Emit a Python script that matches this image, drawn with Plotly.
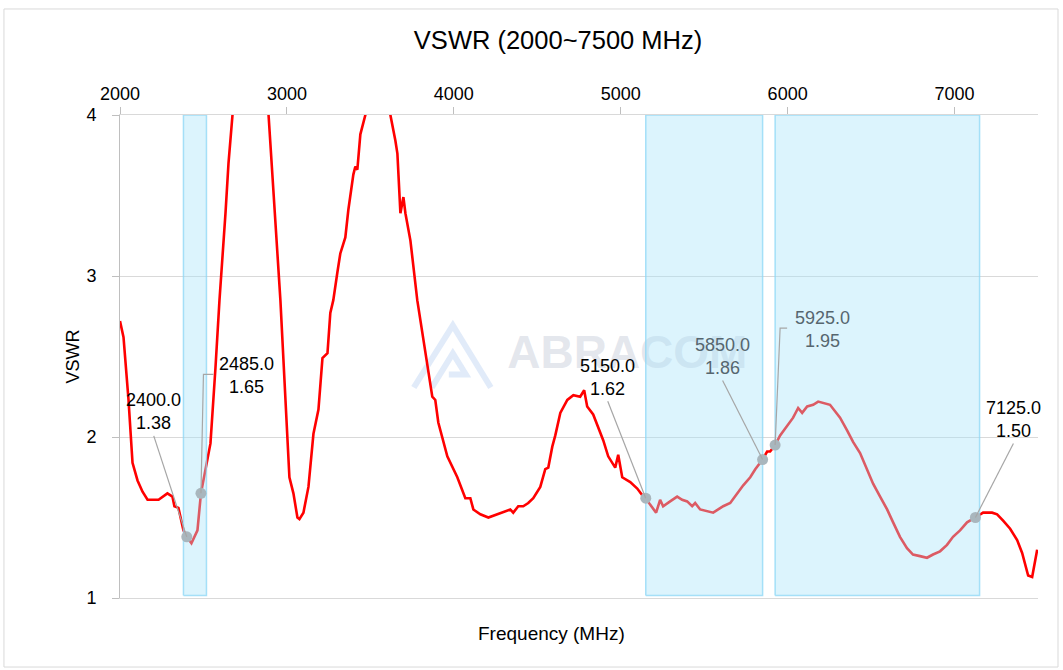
import plotly.graph_objects as go

# ---------------- data ----------------
freq_mhz = [2000, 2021, 2051, 2075, 2105, 2135, 2165, 2231, 2284, 2314, 2326, 2350, 2380, 2400,
            2428, 2464, 2485, 2524, 2542, 2572, 2596, 2632, 2650, 2674, 2720, 2800, 2860, 2890,
            2949, 2961, 3015, 3039, 3063, 3075, 3099, 3129, 3159, 3189, 3213, 3243, 3260, 3278,
            3302, 3320, 3350, 3368, 3398, 3410, 3422, 3440, 3470, 3520, 3580, 3620, 3650, 3662,
            3680, 3698, 3710, 3740, 3781, 3817, 3871, 3889, 3907, 3961, 4021, 4069, 4099, 4117,
            4159, 4207, 4261, 4296, 4338, 4356, 4386, 4416, 4446, 4476, 4518, 4548, 4566, 4590,
            4608, 4638, 4680, 4716, 4757, 4781, 4799, 4835, 4865, 4895, 4925, 4949, 4967, 4985,
            5009, 5057, 5099, 5135, 5150, 5176, 5212, 5236, 5254, 5296, 5338, 5368, 5398, 5428,
            5446, 5476, 5518, 5554, 5584, 5614, 5656, 5698, 5734, 5776, 5806, 5850, 5877, 5895,
            5925, 5955, 5997, 6033, 6063, 6087, 6117, 6153, 6183, 6254, 6284, 6314, 6357, 6392,
            6434, 6476, 6512, 6554, 6596, 6632, 6673, 6715, 6751, 6793, 6835, 6871, 6913, 6955,
            6991, 7033, 7075, 7125, 7171, 7225, 7255, 7291, 7333, 7375, 7405, 7441, 7465, 7495]
vswr = [2.72, 2.62, 2.23, 1.84, 1.73, 1.66, 1.61, 1.61, 1.65, 1.63, 1.57, 1.56, 1.42, 1.38,
        1.34, 1.42, 1.65, 1.86, 1.96, 2.43, 2.85, 3.39, 3.70, 4.00, 4.40, 4.70, 4.40, 4.00,
        2.98, 2.85, 1.75, 1.65, 1.50, 1.49, 1.53, 1.69, 2.02, 2.17, 2.49, 2.52, 2.77, 2.85,
        3.02, 3.14, 3.24, 3.41, 3.63, 3.68, 3.66, 3.88, 4.00, 4.30, 4.30, 4.00, 3.84, 3.76,
        3.39, 3.49, 3.39, 3.22, 2.85, 2.60, 2.25, 2.23, 2.09, 1.88, 1.75, 1.62, 1.62, 1.55,
        1.52, 1.50, 1.52, 1.53, 1.55, 1.53, 1.57, 1.57, 1.59, 1.62, 1.69, 1.80, 1.81, 1.94,
        2.01, 2.15, 2.23, 2.26, 2.25, 2.29, 2.19, 2.14, 2.06, 1.98, 1.88, 1.84, 1.81, 1.89,
        1.75, 1.72, 1.68, 1.63, 1.62, 1.58, 1.53, 1.61, 1.57, 1.60, 1.63, 1.61, 1.60, 1.57,
        1.59, 1.55, 1.54, 1.53, 1.55, 1.57, 1.59, 1.65, 1.70, 1.75, 1.80, 1.86, 1.91, 1.91,
        1.95, 2.01, 2.07, 2.12, 2.18, 2.15, 2.19, 2.20, 2.22, 2.20, 2.16, 2.12, 2.04, 1.97,
        1.90, 1.80, 1.71, 1.63, 1.55, 1.47, 1.38, 1.31, 1.27, 1.26, 1.25, 1.27, 1.29, 1.33,
        1.38, 1.42, 1.47, 1.50, 1.53, 1.53, 1.52, 1.48, 1.43, 1.36, 1.28, 1.14, 1.13, 1.30]

# marked points
mark_freq = [2400.0, 2485.0, 5150.0, 5850.0, 5925.0, 7125.0]
mark_vswr = [1.38, 1.65, 1.62, 1.86, 1.95, 1.50]

# frequency bands (shaded)
band_start = [2380, 5150, 5925]
band_end = [2518, 5850, 7150]

x_ticks = [2000, 3000, 4000, 5000, 6000, 7000]
y_ticks = [1, 2, 3, 4]

# ---------------- styling ----------------
FONT = "Liberation Sans, Arial, sans-serif"
BAND_FILL = "rgba(167,227,250,0.40)"
BAND_LINE = "rgba(140,215,245,0.75)"
LEADER = "#a6a6a6"

# label offsets in pixels (x right, y up) and leader paths
label_shift = [(-33, 125), (46, 118), (-38, 121), (-40, 103), (47, 116), (38, 98)]
leader_path = ["M0,0 L-33,101", "M0,0 L2.5,119 L12.5,119", "M0,0 L-38,97",
               "M0,0 L-40,79", "M0,0 L5,117 L12,117", "M0,0 L38,74"]
label_color = ["#000000", "#000000", "#000000", "#56666f", "#56666f", "#000000"]

fig = go.Figure()

# watermark (under everything)
fig.add_trace(go.Scatter(
    x=[4320], y=[2.50], mode="text", text=["<b>ABRACOM</b>"],
    textposition="middle right",
    textfont=dict(family=FONT, size=46, color="rgba(190,196,212,0.42)"),
    hoverinfo="skip", showlegend=False))

# main VSWR curve
fig.add_trace(go.Scatter(
    x=freq_mhz, y=vswr, mode="lines",
    line=dict(color="#ff0000", width=2.6),
    hoverinfo="skip", showlegend=False))

# shaded bands drawn above the curve (semi-transparent)
for a, b in zip(band_start, band_end):
    fig.add_trace(go.Scatter(
        x=[a, a, b, b, a], y=[1.015, 4, 4, 1.015, 1.015],
        mode="lines", fill="toself", fillcolor=BAND_FILL,
        line=dict(color=BAND_LINE, width=1.5),
        hoverinfo="skip", showlegend=False))

# markers
fig.add_trace(go.Scatter(
    x=mark_freq, y=mark_vswr, mode="markers",
    marker=dict(size=11, color="#a9b6bd"),
    hoverinfo="skip", showlegend=False))

shapes = []
annotations = []
for f, v, (dx, dy), p, c in zip(mark_freq, mark_vswr, label_shift, leader_path, label_color):
    shapes.append(dict(type="path", xref="x", yref="y", xsizemode="pixel", ysizemode="pixel",
                       xanchor=f, yanchor=v, path=p, line=dict(color=LEADER, width=1.2),
                       layer="above"))
    annotations.append(dict(x=f, y=v, xref="x", yref="y", xshift=dx, yshift=dy,
                            text=f"{f:.1f}<br>{v:.2f}", showarrow=False,
                            font=dict(family=FONT, size=18, color=c),
                            xanchor="center", yanchor="middle"))

# watermark logo (faint triangle)
shapes.append(dict(type="path", xref="x", yref="y", xsizemode="pixel", ysizemode="pixel",
                   xanchor=4000, yanchor=2.5,
                   path="M-40,-31 L-1,31 L37,-31 M-22,-31 L-1,3 L12,-18 L-5,-18",
                   line=dict(color="rgba(205,222,245,0.6)", width=6), layer="below"))

# outer chart border
shapes.append(dict(type="rect", xref="paper", yref="paper",
                   x0=-0.1264, x1=1.0218, y0=-0.1429, y1=1.2195,
                   line=dict(color="#d9d9d9", width=1), layer="below"))

# x-axis title at the bottom
annotations.append(dict(x=0.4695, y=-0.0745, xref="paper", yref="paper",
                        text="Frequency (MHz)", showarrow=False,
                        font=dict(family=FONT, size=19, color="#000000"),
                        xanchor="center", yanchor="middle"))

fig.update_layout(
    width=1063, height=670,
    margin=dict(l=120, r=25, t=115, b=72),
    paper_bgcolor="white", plot_bgcolor="white",
    title=dict(text="VSWR (2000~7500 MHz)", x=0.525, xanchor="center",
               y=0.94, yanchor="middle",
               font=dict(family=FONT, size=25.5, color="#000000")),
    xaxis=dict(range=[2000, 7500], side="top", tickvals=x_ticks,
               ticktext=[str(t) for t in x_ticks],
               ticks="outside", ticklen=7, tickcolor="#bfbfbf",
               showgrid=False, zeroline=False,
               showline=True, mirror=True, linecolor="#d9d9d9", linewidth=1,
               tickfont=dict(family=FONT, size=18, color="#000000")),
    yaxis=dict(range=[1, 4], tickvals=y_ticks, ticktext=[str(t) for t in y_ticks],
               ticks="outside", ticklen=7, tickcolor="#bfbfbf",
               showgrid=True, gridcolor="#d9d9d9", gridwidth=1, zeroline=False,
               showline=True, linecolor="#bfbfbf", linewidth=1,
               ticklabelstandoff=12,
               tickfont=dict(family=FONT, size=18, color="#000000"),
               title=dict(text="VSWR", standoff=2,
                          font=dict(family=FONT, size=18, color="#000000"))),
    shapes=shapes, annotations=annotations,
)

fig.write_html("out.html", config={"displayModeBar": False},
               post_script="document.body.style.margin='0';")
